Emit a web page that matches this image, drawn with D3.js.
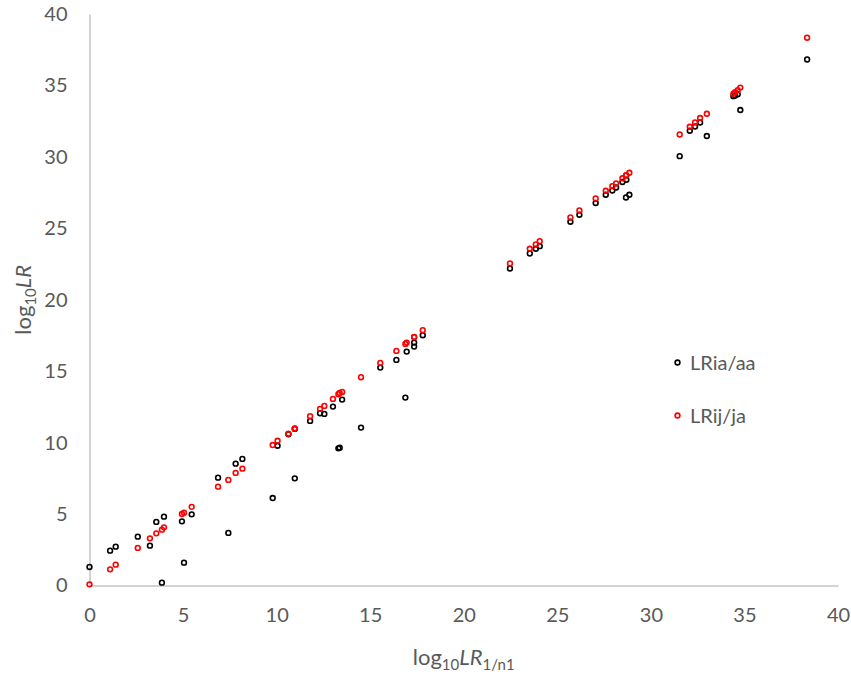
<!DOCTYPE html>
<html>
<head>
<meta charset="utf-8">
<script src="https://cdn.jsdelivr.net/npm/d3@7"></script>
<style>
  html, body { margin: 0; padding: 0; background: #fff; }
  svg { display: block; font-family: Lato, "Open Sans", sans-serif; }
</style>
</head>
<body>
<svg id="chart" width="851" height="677"></svg>
<script>
// log10 LR_{1/n1} (shared x values)
const xValues = [0, 1.1, 1.4, 2.58, 3.23, 3.57, 3.87, 3.98, 4.94, 5.05, 5.46, 6.87, 7.42, 7.81, 8.17,
  9.79, 10.05, 10.63, 10.97, 10.97, 11.79, 12.32, 12.55, 13.01, 13.3, 13.37, 13.5, 14.51, 15.54, 16.4,
  16.88, 16.95, 17.35, 17.35, 17.81, 22.47, 23.53, 23.85, 24.06, 25.7, 26.18, 27.05, 27.59, 27.94,
  28.14, 28.48, 28.67, 28.69, 28.85, 31.54, 32.08, 32.36, 32.63, 32.99, 34.41, 34.5, 34.64, 34.78, 38.35];
// LRia/aa (black)
const lrIaAa = [1.3, 2.44, 2.72, 3.42, 2.79, 4.45, 0.2, 4.82, 4.49, 1.6, 4.98, 7.55, 3.68, 8.53, 8.86,
  6.12, 9.78, 10.59, 7.5, 10.96, 11.52, 12.06, 12.01, 12.52, 9.6, 9.65, 13.01, 11.05, 15.25, 15.79,
  13.15, 16.37, 16.72, 17.0, 17.52, 22.19, 23.24, 23.57, 23.75, 25.46, 25.95, 26.77, 27.35, 27.65,
  27.86, 28.24, 27.16, 28.4, 27.35, 30.05, 31.83, 32.13, 32.41, 31.46, 34.25, 34.3, 34.38, 33.28, 36.82];
// LRij/ja (red)
const lrIjJa = [0.08, 1.13, 1.46, 2.63, 3.3, 3.65, 3.91, 4.07, 5.0, 5.1, 5.5, 6.92, 7.39, 7.88, 8.18,
  9.83, 10.13, 10.62, 10.98, 11.0, 11.85, 12.36, 12.57, 13.06, 13.39, 13.48, 13.55, 14.58, 15.58, 16.42,
  16.91, 17.0, 17.38, 17.4, 17.87, 22.54, 23.57, 23.87, 24.1, 25.76, 26.25, 27.09, 27.63, 27.95,
  28.14, 28.5, 28.7, 28.72, 28.89, 31.57, 32.11, 32.41, 32.72, 33.02, 34.42, 34.52, 34.67, 34.85, 38.34];
const xTicks = [0, 5, 10, 15, 20, 25, 30, 35, 40];
const yTicks = [0, 5, 10, 15, 20, 25, 30, 35, 40];
const seriesNames = ["LRia/aa", "LRij/ja"];
const seriesColors = ["#000000", "#ff0000"];

const svg = d3.select("#chart");
const plotLeft = 89.5, plotRight = 838, plotTop = 14, plotBottom = 585.5;
const x = d3.scaleLinear().domain([0, 40]).range([plotLeft, plotRight]);
const y = d3.scaleLinear().domain([0, 40]).range([plotBottom, plotTop]);
const textColor = "#595959";
const axisColor = "#c4c4c4";

// axes
const xAxis = svg.append("g").attr("transform", `translate(0,${plotBottom})`)
  .call(d3.axisBottom(x).tickValues(xTicks).tickSize(0).tickPadding(22));
const yAxis = svg.append("g").attr("transform", `translate(${plotLeft},0)`)
  .call(d3.axisLeft(y).tickValues(yTicks).tickSize(0).tickPadding(22));
[xAxis, yAxis].forEach(g => {
  g.select(".domain").attr("stroke", axisColor).attr("stroke-width", 1.5);
  g.selectAll("text").attr("fill", textColor).attr("font-size", 20)
    .attr("font-family", "Lato, 'Open Sans', sans-serif");
});

// series
const series = [lrIaAa, lrIjJa];
series.forEach((vals, si) => {
  svg.append("g").selectAll("circle").data(vals).join("circle")
    .attr("cx", (d, i) => x(xValues[i]))
    .attr("cy", d => y(d))
    .attr("r", 2.4)
    .attr("fill", "none")
    .attr("stroke", seriesColors[si])
    .attr("stroke-width", 1.6);
});

// legend
const legY = [362.5, 415.5];
seriesNames.forEach((name, i) => {
  svg.append("circle").attr("cx", 677.5).attr("cy", legY[i]).attr("r", 2.4)
    .attr("fill", "none").attr("stroke", seriesColors[i]).attr("stroke-width", 1.6);
  svg.append("text").attr("x", 690).attr("y", legY[i]).attr("dy", "0.35em")
    .attr("fill", textColor).attr("font-size", 20).text(name);
});

// x title
const xt = svg.append("text").attr("x", (plotLeft + plotRight) / 2).attr("y", 665)
  .attr("text-anchor", "middle").attr("fill", textColor).attr("font-size", 22);
xt.append("tspan").text("log");
xt.append("tspan").attr("font-size", 15).attr("dy", 5).text("10");
xt.append("tspan").attr("font-style", "italic").attr("dy", -5).text("LR");
xt.append("tspan").attr("font-size", 15).attr("dy", 5).text("1/n1");

// y title
const yt = svg.append("text").attr("transform", `translate(31,${(plotTop + plotBottom) / 2}) rotate(-90)`)
  .attr("text-anchor", "middle").attr("fill", textColor).attr("font-size", 22);
yt.append("tspan").text("log");
yt.append("tspan").attr("font-size", 15).attr("dy", 5).text("10");
yt.append("tspan").attr("font-style", "italic").attr("dy", -5).text("LR");
</script>
</body>
</html>
